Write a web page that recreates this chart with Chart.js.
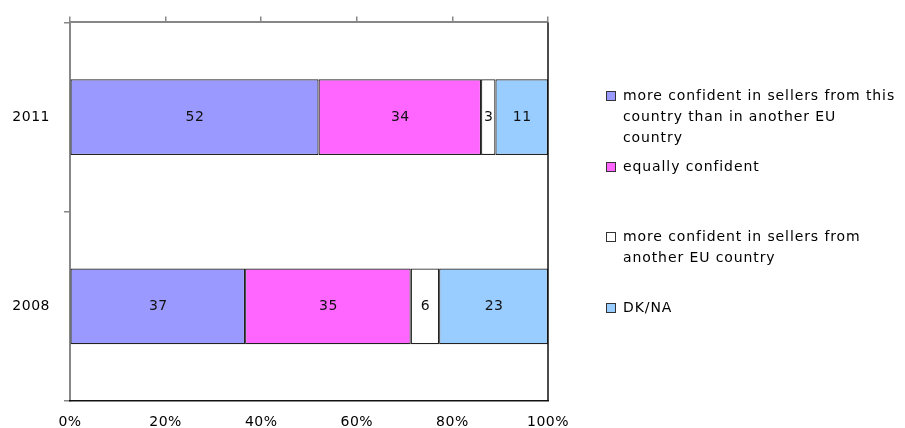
<!DOCTYPE html>
<html>
<head>
<meta charset="utf-8">
<script src="https://cdn.jsdelivr.net/npm/chart.js@4/dist/chart.umd.min.js"></script>
<style>
  html, body { margin: 0; padding: 0; background: #fff; }
  #wrap { position: relative; width: 905px; height: 428px; }
  #wrap canvas { position: absolute; left: 0; top: 0; }
  .legend-item { position: absolute; left: 606px; display: flex; align-items: flex-start;
    font-family: "DejaVu Sans", Verdana, sans-serif; font-size: 14px; letter-spacing: 0.9px;
    line-height: 21px; color: #000; }
  .legend-box { width: 8px; height: 8px; border: 1px solid #333; margin-top: 6px; margin-right: 7px; flex: none; }
</style>
</head>
<body>
<div id="wrap">
  <canvas id="chart" width="905" height="428"></canvas>
</div>
<script>
// Survey years (top to bottom)
const categories = ['2011', '2008'];

// Answer shares per year (labels show these values)
const moreConfidentHome = [52, 37];
const equallyConfident = [34, 35];
const moreConfidentOther = [3, 6];
const dkNa = [11, 23];

// Series names, split into the lines shown in the legend
const seriesNames = [
  ['more confident in sellers from this', 'country than in another EU', 'country'],
  ['equally confident'],
  ['more confident in sellers from', 'another EU country'],
  ['DK/NA']
];

const seriesColors = ['#9999FF', '#FF66FF', '#FFFFFF', '#99CCFF'];

const xTickLabels = ['0%', '20%', '40%', '60%', '80%', '100%'];

const seriesValues = [moreConfidentHome, equallyConfident, moreConfidentOther, dkNa];

// Each bar is drawn as a 100% stack: values are scaled by the year's total
const totals = categories.map((_, i) => seriesValues.reduce((s, arr) => s + arr[i], 0));

const FONT = { family: '"DejaVu Sans", Verdana, sans-serif', size: 14 };
const AXIS_GREY = '#878787';
const SPACING = '0.5px';

const datasets = seriesValues.map((vals, k) => ({
  label: seriesNames[k].join(' '),
  data: vals.map((v, i) => v / totals[i] * 100),
  rawValues: vals,
  backgroundColor: seriesColors[k],
  borderColor: '#222',
  borderWidth: 1.2,
  borderSkipped: false,
  barPercentage: 0.8,
  categoryPercentage: 0.5
}));

// Slightly wider glyph spacing for all canvas text
const spacingPlugin = {
  id: 'spacing',
  beforeDraw(chart) { chart.ctx.letterSpacing = SPACING; }
};

// Value labels centred in each segment, plus the right-hand frame line
const valueLabels = {
  id: 'valueLabels',
  afterDatasetsDraw(chart) {
    const ctx = chart.ctx;
    ctx.save();
    ctx.letterSpacing = SPACING;
    ctx.font = `${FONT.size}px ${FONT.family}`;
    ctx.fillStyle = '#111';
    ctx.textAlign = 'center';
    ctx.textBaseline = 'middle';
    chart.data.datasets.forEach((ds, k) => {
      chart.getDatasetMeta(k).data.forEach((el, i) => {
        const cx = (el.x + el.base) / 2;
        ctx.fillText(String(ds.rawValues[i]), cx + 0.5, el.y);
      });
    });
    ctx.restore();
  },
  afterDraw(chart) {
    const { ctx, chartArea } = chart;
    ctx.save();
    ctx.strokeStyle = '#111';
    ctx.lineWidth = 1.5;
    ctx.beginPath();
    ctx.moveTo(chartArea.right, chartArea.top);
    ctx.lineTo(chartArea.right, chartArea.bottom);
    ctx.stroke();
    ctx.restore();
  }
};

const chart = new Chart(document.getElementById('chart'), {
  type: 'bar',
  data: { labels: categories, datasets },
  options: {
    indexAxis: 'y',
    responsive: false,
    animation: false,
    devicePixelRatio: 1,
    layout: { padding: { left: 0, right: 357, top: 0, bottom: 0 } },
    plugins: { legend: { display: false }, tooltip: { enabled: false } },
    scales: {
      y: {
        stacked: true,
        position: 'left',
        offset: true,
        grid: { offset: true, drawOnChartArea: false, drawTicks: true, tickLength: 6, color: AXIS_GREY, lineWidth: 1.5 },
        border: { color: AXIS_GREY, width: 2 },
        ticks: { color: '#000', font: FONT, padding: 14 },
        afterFit(s) { s.width = 70; }
      },
      x: {
        type: 'linear',
        stacked: true,
        position: 'bottom',
        min: 0, max: 100,
        grid: { drawOnChartArea: false, drawTicks: false },
        border: { color: '#111', width: 1.5 },
        ticks: { stepSize: 20, color: '#000', font: FONT, padding: 13,
                 callback: (v, i) => xTickLabels[i] },
        afterFit(s) { s.height = 27; }
      },
      x2: {
        type: 'linear',
        position: 'top',
        min: 0, max: 100,
        grid: { drawOnChartArea: false, drawTicks: true, tickLength: 6, color: AXIS_GREY, lineWidth: 1.5 },
        border: { color: AXIS_GREY, width: 2 },
        ticks: { stepSize: 20, display: false },
        afterFit(s) { s.height = 20; }
      }
    }
  },
  plugins: [spacingPlugin, valueLabels]
});

// Legend on the right, built from the series
const legendTops = [85, 156, 226, 297];
const wrap = document.getElementById('wrap');
seriesNames.forEach((lines, k) => {
  const item = document.createElement('div');
  item.className = 'legend-item';
  item.style.top = legendTops[k] + 'px';
  const box = document.createElement('span');
  box.className = 'legend-box';
  box.style.background = seriesColors[k];
  const text = document.createElement('span');
  text.innerHTML = lines.map(l => l.replace(/&/g, '&amp;').replace(/</g, '&lt;')).join('<br>');
  item.appendChild(box);
  item.appendChild(text);
  wrap.appendChild(item);
});
</script>
</body>
</html>
